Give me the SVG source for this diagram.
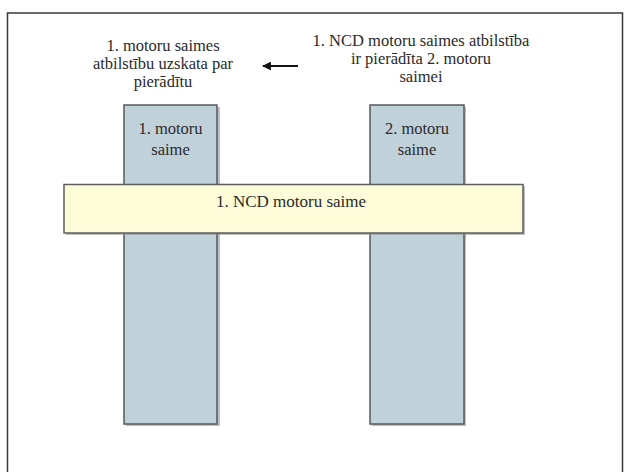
<svg xmlns="http://www.w3.org/2000/svg" width="624" height="472" viewBox="0 0 624 472">
  <style>
    .lbl { font-family: "Liberation Serif", "DejaVu Serif", serif; font-size: 16.5px; fill: #2a2a2a; text-anchor: middle; }
    .col { fill: #c1d1da; stroke: #555a5e; stroke-width: 1.5; }
    .bar { fill: #fdfcd9; stroke: #5e5e5e; stroke-width: 1.5; }
    .shadow { fill: #8a8a8a; opacity: 0.55; }
    .conn { stroke: #111; stroke-width: 2.2; fill: none; }
  </style>
  <defs>
    <marker id="head" viewBox="0 0 10 10" refX="9" refY="5" markerWidth="4" markerHeight="4" orient="auto-start-reverse">
      <path d="M0,0 L10,5 L0,10 z" fill="#111"/>
    </marker>
  </defs>

  <rect x="0" y="0" width="624" height="472" fill="#ffffff"/>

  <!-- page frame, open at the bottom -->
  <path d="M7.5,472 V13 H622.5 V472" fill="none" stroke="#3a3a3a" stroke-width="1.5"/>

  <!-- header labels -->
  <g id="label-left">
    <text class="lbl" x="163" y="51">1. motoru saimes</text>
    <text class="lbl" x="163" y="69">atbilstību uzskata par</text>
    <text class="lbl" x="163" y="87">pierādītu</text>
  </g>
  <g id="label-right">
    <text class="lbl" x="421" y="46">1. NCD motoru saimes atbilstība</text>
    <text class="lbl" x="421" y="64">ir pierādīta 2. motoru</text>
    <text class="lbl" x="421" y="82">saimei</text>
  </g>

  <g id="connectors">
    <line class="conn" x1="298" y1="66" x2="263" y2="66" marker-end="url(#head)"/>
  </g>

  <!-- engine family columns -->
  <g id="family-1">
    <rect class="shadow" x="126" y="107" width="94" height="319"/>
    <rect class="col" x="124" y="105" width="93" height="319"/>
    <text class="lbl" x="170.5" y="134">1. motoru</text>
    <text class="lbl" x="170.5" y="155">saime</text>
  </g>
  <g id="family-2">
    <rect class="shadow" x="372" y="107" width="94" height="319"/>
    <rect class="col" x="370" y="105" width="94" height="319"/>
    <text class="lbl" x="417" y="134">2. motoru</text>
    <text class="lbl" x="417" y="155">saime</text>
  </g>

  <!-- NCD family bar across both columns -->
  <g id="ncd-family">
    <rect class="shadow" x="66" y="186" width="459" height="49"/>
    <rect class="bar" x="64" y="184.5" width="459" height="48.5"/>
    <text class="lbl" x="291" y="207" style="font-size:17px">1. NCD motoru saime</text>
  </g>
</svg>
